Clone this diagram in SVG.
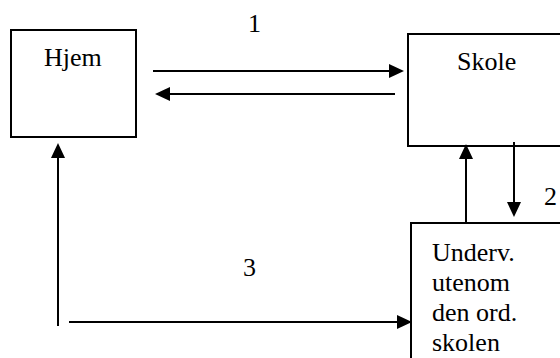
<svg xmlns="http://www.w3.org/2000/svg" width="560" height="358" viewBox="0 0 560 358">
<style>
.box{fill:#fff;stroke:#000;stroke-width:2}
.lbl{font-family:'Liberation Serif', 'DejaVu Serif', serif;font-size:26px;fill:#000}
.conn{stroke:#000;stroke-width:2;fill:none;marker-end:url(#ah)}
</style>
<defs>
<marker id="ah" markerUnits="userSpaceOnUse" markerWidth="15" markerHeight="14" refX="12" refY="7" orient="auto">
<path d="M0,0 L15,7 L0,14 z" fill="#000"/>
</marker>
</defs>
<rect width="560" height="358" fill="#fff"/>
<g id="hjem">
<rect class="box" x="11" y="30" width="125" height="107"/>
<text class="lbl" font-family="Liberation Serif, serif" x="44" y="66">Hjem</text>
</g>
<g id="skole">
<rect class="box" x="408" y="34" width="170" height="112"/>
<text class="lbl" font-family="Liberation Serif, serif" x="457" y="70">Skole</text>
</g>
<g id="underv">
<rect class="box" x="411" y="223" width="170" height="150"/>
<text class="lbl" font-family="Liberation Serif, serif" x="432" y="261">Underv.</text>
<text class="lbl" font-family="Liberation Serif, serif" x="432" y="291">utenom</text>
<text class="lbl" font-family="Liberation Serif, serif" x="432" y="321">den ord.</text>
<text class="lbl" font-family="Liberation Serif, serif" x="432" y="351">skolen</text>
</g>
<g id="connectors">
<line class="conn" x1="153" y1="71" x2="401" y2="71"/>
<line class="conn" x1="395" y1="94" x2="158" y2="94"/>
<line class="conn" x1="466" y1="223" x2="466" y2="147"/>
<line class="conn" x1="514" y1="142" x2="514" y2="214"/>
<line class="conn" x1="58" y1="326" x2="58" y2="146"/>
<line class="conn" x1="69" y1="322" x2="409" y2="322"/>
</g>
<g id="labels">
<text class="lbl" font-family="Liberation Serif, serif" x="248" y="32">1</text>
<text class="lbl" font-family="Liberation Serif, serif" x="544" y="205">2</text>
<text class="lbl" font-family="Liberation Serif, serif" x="243" y="276">3</text>
</g>
</svg>
